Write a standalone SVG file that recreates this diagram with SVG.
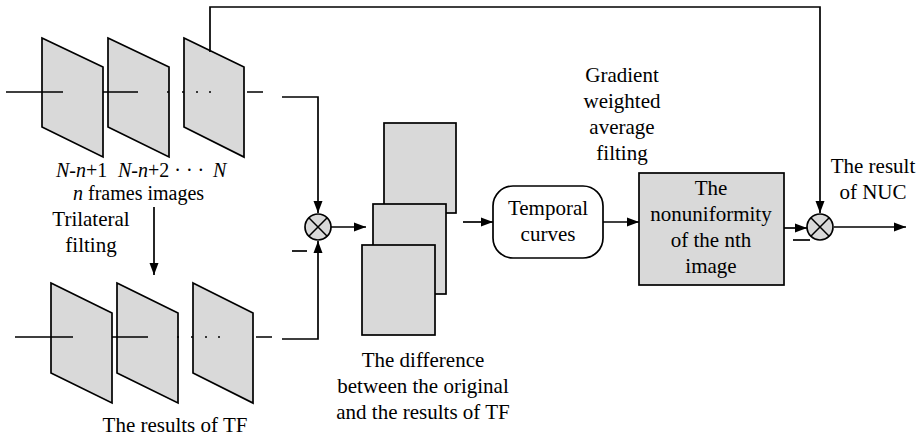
<svg xmlns="http://www.w3.org/2000/svg" width="918" height="439" viewBox="0 0 918 439">
  <style>
    .frame { fill: #d9d9d9; stroke: #000; stroke-width: 1.7; stroke-linejoin: miter; }
    .box { fill: #d9d9d9; stroke: #000; stroke-width: 1.7; }
    .wbox { fill: #fff; stroke: #000; stroke-width: 1.7; }
    .ln { fill: none; stroke: #000; stroke-width: 1.7; }
    .arr { fill: none; stroke: #000; stroke-width: 1.7; marker-end: url(#ah); }
    .dot { fill: #000; }
    text { font-family: "Liberation Serif", "Times New Roman", serif; font-size: 21px; fill: #000; }
    .c { text-anchor: middle; }
    .i { font-style: italic; }
    .idx { font-size: 20px; }
  </style>
  <defs>
    <marker id="ah" markerUnits="userSpaceOnUse" markerWidth="12" markerHeight="10" viewBox="0 0 12 10" refX="12" refY="5" orient="auto">
      <path d="M0,0.5 L12,5 L0,9.5 z" fill="#000"/>
    </marker>
    <g id="mult">
      <circle r="13" fill="#d9d9d9" stroke="#000" stroke-width="1.7"/>
      <path d="M-9.2,-9.2 L9.2,9.2 M-9.2,9.2 L9.2,-9.2" stroke="#000" stroke-width="1.5"/>
    </g>
  </defs>

  <!-- input frame sequence -->
  <g id="input-frames">
    <polygon class="frame" points="42,38 103,67 103,157 42,127"/>
    <polygon class="frame" points="108,38 169,67 169,157 108,127"/>
    <polygon class="frame" points="184,38 244,67 244,157 184,127"/>
    <path class="ln" d="M6,92 H63 M103,92 H138 M247,92 H263"/>
    <circle class="dot" cx="168" cy="92" r="1"/>
    <circle class="dot" cx="183" cy="92" r="1"/>
    <circle class="dot" cx="197" cy="92" r="1"/>
    <circle class="dot" cx="210" cy="92" r="1"/>
    <text class="idx" y="177"><tspan x="56" class="i">N</tspan><tspan>-</tspan><tspan class="i">n</tspan><tspan>+1 </tspan><tspan x="118" class="i">N</tspan><tspan>-</tspan><tspan class="i">n</tspan><tspan>+2 · · ·</tspan><tspan x="213" class="i">N</tspan></text>
    <text class="idx" x="73" y="200"><tspan class="i">n</tspan> frames images</text>
  </g>

  <!-- trilateral filtering label -->
  <g id="trilateral-label">
    <text class="c" x="91" y="226">Trilateral</text>
    <text class="c" x="91" y="252">filting</text>
  </g>

  <!-- filtered frame sequence -->
  <g id="filtered-frames">
    <polygon class="frame" points="51,283 112,313 112,403 51,373"/>
    <polygon class="frame" points="117,283 178,313 178,403 117,373"/>
    <polygon class="frame" points="193,283 253,313 253,403 193,373"/>
    <path class="ln" d="M15,337 H73 M112,337 H148 M256,337 H272"/>
    <circle class="dot" cx="178" cy="337" r="1"/>
    <circle class="dot" cx="192" cy="337" r="1"/>
    <circle class="dot" cx="206" cy="337" r="1"/>
    <circle class="dot" cx="219" cy="337" r="1"/>
    <text class="c" x="175" y="432">The results of TF</text>
  </g>

  <!-- subtraction node -->
  <g id="sub1">
    <use href="#mult" x="318" y="227"/>
    <path class="ln" d="M292,251 H307"/>
  </g>

  <!-- difference images -->
  <g id="difference">
    <rect class="box" x="384" y="123" width="72" height="90"/>
    <rect class="box" x="373" y="204" width="73" height="90"/>
    <rect class="box" x="362" y="245" width="73" height="90"/>
    <text class="c" x="423" y="367">The difference</text>
    <text class="c" x="423" y="393">between the original</text>
    <text class="c" x="423" y="419">and the results of TF</text>
  </g>

  <!-- temporal curves -->
  <g id="temporal">
    <rect class="wbox" x="493" y="186" width="110" height="72" rx="20" ry="20"/>
    <text class="c" x="548" y="215">Temporal</text>
    <text class="c" x="548" y="241">curves</text>
  </g>

  <!-- gradient weighted average filtering label -->
  <g id="gradient-label">
    <text class="c" x="622" y="82">Gradient</text>
    <text class="c" x="622" y="108">weighted</text>
    <text class="c" x="622" y="134">average</text>
    <text class="c" x="622" y="160">filting</text>
  </g>

  <!-- nonuniformity estimate -->
  <g id="nonuniformity">
    <rect class="box" x="639" y="173" width="145" height="112"/>
    <text class="c" x="711" y="195">The</text>
    <text class="c" x="711" y="221">nonuniformity</text>
    <text class="c" x="711" y="247">of the nth</text>
    <text class="c" x="711" y="273">image</text>
  </g>

  <!-- correction node -->
  <g id="sub2">
    <use href="#mult" x="820" y="227"/>
    <path class="ln" d="M793,240 H810"/>
  </g>

  <!-- output label -->
  <g id="output-label">
    <text class="c" x="873" y="173">The result</text>
    <text class="c" x="873" y="199">of NUC</text>
  </g>

  <!-- connectors -->
  <g id="connectors">
    <path class="arr" d="M282,97 H318 V213"/>
    <path class="arr" d="M282,339 H318 V241"/>
    <path class="arr" d="M154,207 V275"/>
    <path class="arr" d="M331,227 H366"/>
    <path class="arr" d="M463,222 H493"/>
    <path class="arr" d="M603,222 H639"/>
    <path class="arr" d="M784,228 H807"/>
    <path class="arr" d="M210,52 V7 H820 V213"/>
    <path class="arr" d="M834,227 H906"/>
  </g>
</svg>
